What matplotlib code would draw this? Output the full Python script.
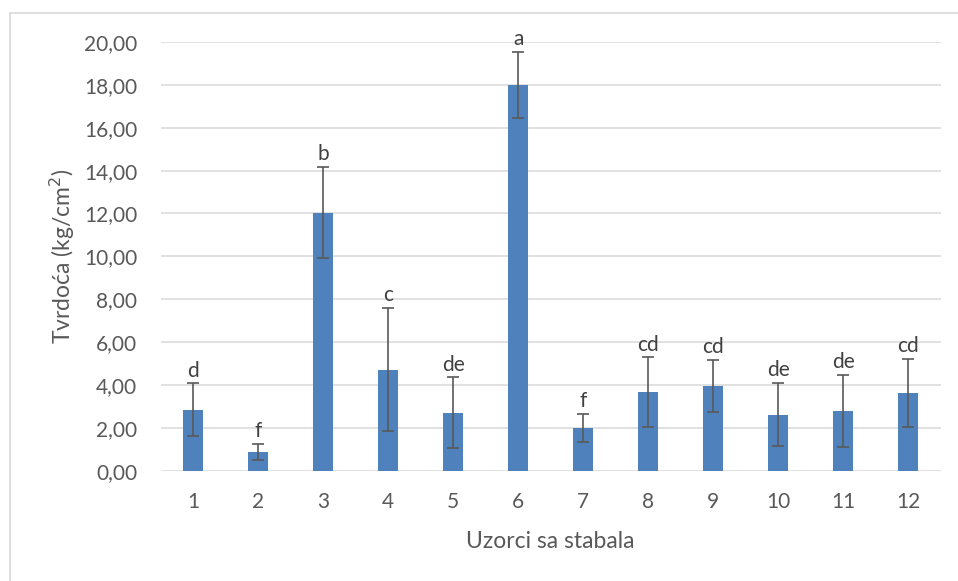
import numpy as np
import matplotlib.pyplot as plt
from matplotlib.patches import Rectangle

# Podaci očitani s grafikona
uzorci = ['1', '2', '3', '4', '5', '6', '7', '8', '9', '10', '11', '12']
tvrdoca = [2.85, 0.89, 12.04, 4.71, 2.70, 18.00, 2.00, 3.67, 3.95, 2.62, 2.79, 3.63]
greska = [1.22, 0.37, 2.13, 2.87, 1.65, 1.55, 0.66, 1.62, 1.22, 1.47, 1.68, 1.58]
slova = ['d', 'f', 'b', 'c', 'de', 'a', 'f', 'cd', 'cd', 'de', 'de', 'cd']

TEXT = '#595959'
plt.rcParams['font.family'] = ['Lato', 'DejaVu Sans']

fig = plt.figure(figsize=(9.58, 5.81), dpi=100)
ax = fig.add_axes([0.1677, 0.1898, 0.8143, 0.7379])

# okvir grafikona (Excel chart area)
fig.patches.append(Rectangle((10 / 958, -0.01), 1.0, 1 - 13 / 581 + 0.01,
                             transform=fig.transFigure, fill=False,
                             edgecolor='#d9d9d9', lw=1.2))

x = np.arange(len(uzorci))
ax.bar(x, tvrdoca, width=0.31, color='#4f81bd', zorder=3)
ax.errorbar(x, tvrdoca, yerr=greska, fmt='none', ecolor='#595959',
            elinewidth=1.2, capsize=4.5, capthick=1.2, zorder=4)

for xi, v, e, s in zip(x, tvrdoca, greska, slova):
    ax.annotate(s, (xi, v + e), xytext=(0, 2), textcoords='offset points',
                ha='center', va='bottom', fontsize=15, color='#404040',
                annotation_clip=False)

ax.set_xlim(-0.5, len(uzorci) - 0.5)
ax.set_ylim(0, 20)
ax.set_yticks(np.arange(0, 21, 2))
ax.set_yticklabels([f'{v:.2f}'.replace('.', ',') for v in np.arange(0, 21, 2)])
ax.set_xticks(x)
ax.set_xticklabels(uzorci)
ax.tick_params(axis='both', length=0, labelsize=15, labelcolor=TEXT)
ax.tick_params(axis='y', pad=17)
ax.tick_params(axis='x', pad=15)

ax.grid(axis='y', color='#d9d9d9', lw=1.1, zorder=0)
for sp in ax.spines.values():
    sp.set_visible(False)

ax.set_xlabel('Uzorci sa stabala', fontsize=16.5, color=TEXT, labelpad=14)
ax.set_ylabel('Tvrdoća (kg/cm$^2$)', fontsize=16.5, color=TEXT, labelpad=5)

fig.savefig('out.png', dpi=100)
